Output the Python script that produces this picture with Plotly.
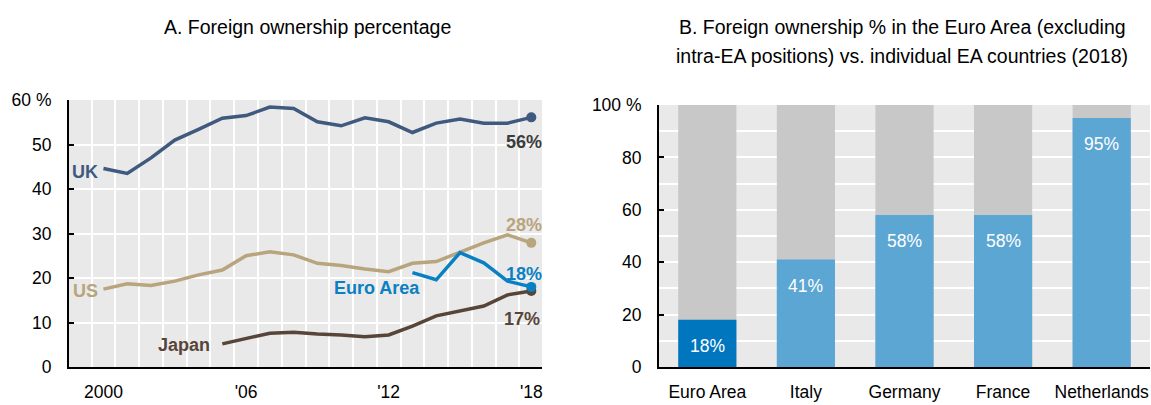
import plotly.graph_objects as go

# ---------------- Data ----------------
years = list(range(2000, 2019))
uk = [44.6, 43.5, 47.0, 51.0, 53.4, 55.9, 56.5, 58.4, 58.1, 55.1, 54.2, 56.0, 55.1, 52.7, 54.8, 55.7, 54.8, 54.8, 56.1]
us = [17.5, 18.7, 18.3, 19.3, 20.7, 21.8, 25.0, 25.9, 25.2, 23.3, 22.8, 22.0, 21.4, 23.3, 23.7, 25.9, 27.9, 29.7, 27.9]
japan_years = list(range(2005, 2019))
japan = [5.2, 6.4, 7.6, 7.8, 7.4, 7.2, 6.8, 7.2, 9.2, 11.5, 12.6, 13.7, 16.2, 17.1]
ea_years = list(range(2013, 2019))
euro_area = [21.2, 19.6, 25.7, 23.4, 19.3, 18.0]

x_tickvals = [2000, 2006, 2012, 2018]
x_ticktext = ["2000", "'06", "'12", "'18"]
yA_tickvals = [0, 10, 20, 30, 40, 50, 60]
yA_ticktext = ["0", "10", "20", "30", "40", "50", "60 %"]

countries = ["Euro Area", "Italy", "Germany", "France", "Netherlands"]
foreign_share = [18, 41, 58, 58, 95]
total_share = [100, 100, 100, 100, 100]
yB_tickvals = [0, 20, 40, 60, 80, 100]
yB_ticktext = ["0", "20", "40", "60", "80", "100 %"]

# ---------------- Styles ----------------
FONT = "Liberation Sans, Arial, sans-serif"
C_UK = "#3F5A7E"
C_US = "#B8A47D"
C_JP = "#574539"
C_EA = "#0A80C4"
C_EA_BAR = "#0076BF"
C_BAR = "#5CA6D3"
C_GREY = "#C8C8C8"
BG = "#E9E9E9"
TICK = 17.5

fig = go.Figure()

def line(x, y, color, name):
    fig.add_trace(go.Scatter(x=x, y=y, mode="lines", line=dict(color=color, width=3.5),
                             name=name, xaxis="x", yaxis="y", showlegend=False))
    fig.add_trace(go.Scatter(x=[x[-1]], y=[y[-1]], mode="markers",
                             marker=dict(color=color, size=10), xaxis="x", yaxis="y",
                             showlegend=False))

line(years, us, C_US, "US")
line(japan_years, japan, C_JP, "Japan")
line(years, uk, C_UK, "UK")
line(ea_years, euro_area, C_EA, "Euro Area")

# Panel B bars
fig.add_trace(go.Bar(x=countries, y=total_share, marker=dict(color=C_GREY, line=dict(width=0)),
                     width=0.59, xaxis="x2", yaxis="y2", showlegend=False, hoverinfo="skip"))
fig.add_trace(go.Bar(x=countries, y=foreign_share,
                     marker=dict(color=[C_EA_BAR] + [C_BAR] * (len(countries) - 1), line=dict(width=0)),
                     width=0.59, xaxis="x2", yaxis="y2", showlegend=False))

ann = []
# bar value labels
for c, v in zip(countries, foreign_share):
    ann.append(dict(x=c, y=v - 10, xref="x2", yref="y2", text=f"{v}%", showarrow=False,
                    xanchor="center", yanchor="middle",
                    font=dict(color="white", size=17.5, family=FONT)))

# Annotations panel A
def lab(x, y, text, color, xanchor="center", size=18):
    ann.append(dict(x=x, y=y, xref="x", yref="y", text=f"<b>{text}</b>", showarrow=False,
                    xanchor=xanchor, yanchor="middle", font=dict(color=color, size=size, family=FONT)))

lab(1999.85, uk[0] - 0.7, "UK", C_UK, "right")
lab(1999.85, us[0] - 0.5, "US", C_US, "right")
lab(japan_years[0] - 0.45, 4.9, "Japan", C_JP, "right")
lab(ea_years[0] + 0.4, 17.8, "Euro Area", C_EA, "right")
lab(2017.7, 50.5, f"{round(uk[-1])}%", "#3C3C3C")
lab(2017.7, 31.8, f"{round(us[-1])}%", C_US)
lab(2017.7, 21.0, f"{round(euro_area[-1])}%", C_EA)
lab(2017.6, 10.8, f"{round(japan[-1])}%", C_JP)

H = 405
W = 1151
def py(pix):
    return (H - pix) / H

# Titles
TFS = 19.5
ann.append(dict(x=307 / W, y=py(27), xref="paper", yref="paper", yanchor="middle", xanchor="center",
                text="A. Foreign ownership percentage", showarrow=False,
                font=dict(size=TFS, color="black", family=FONT)))
ann.append(dict(x=902 / W, y=py(27), xref="paper", yref="paper", yanchor="middle", xanchor="center",
                text="B. Foreign ownership % in the Euro Area (excluding",
                showarrow=False, font=dict(size=TFS, color="black", family=FONT)))
ann.append(dict(x=902 / W, y=py(56), xref="paper", yref="paper", yanchor="middle", xanchor="center",
                text="intra-EA positions) vs. individual EA countries (2018)",
                showarrow=False, font=dict(size=TFS, color="black", family=FONT)))

fig.update_layout(
    width=W, height=H,
    margin=dict(l=0, r=0, t=0, b=0),
    paper_bgcolor="white",
    plot_bgcolor=BG,
    font=dict(family=FONT, size=TICK, color="black"),
    barmode="overlay",
    annotations=ann,
    xaxis=dict(domain=[69 / W, 542 / W], range=[1998.55, 2018.45], tickvals=x_tickvals,
               ticktext=x_ticktext, showgrid=False, zeroline=False, automargin=False,
               showline=True, linecolor="black", linewidth=2, ticks="", ticklabelstandoff=8,
               minor=dict(tick0=1999.5, dtick=1, showgrid=True, gridcolor="white", gridwidth=2, ticks=""),
               anchor="y", fixedrange=True),
    yaxis=dict(domain=[py(367), py(100)], range=[0, 60], tickvals=yA_tickvals, ticktext=yA_ticktext,
               showgrid=True, gridcolor="white", gridwidth=2, zeroline=False, automargin=False,
               showline=True, linecolor="black", linewidth=2, ticks="inside", ticklen=5,
               tickcolor="black", tickwidth=2, anchor="x", ticklabelstandoff=12),
    xaxis2=dict(domain=[659 / W, 1150 / W], range=[-0.49, 4.49], showgrid=False, zeroline=False,
                showline=True, linecolor="black", linewidth=2, ticks="", anchor="y2",
                ticklabelstandoff=8, automargin=False),
    yaxis2=dict(domain=[py(367), py(105)], range=[0, 100], tickvals=yB_tickvals, ticktext=yB_ticktext,
                showgrid=False, zeroline=False, automargin=False,
                minor=dict(dtick=10, tick0=0, showgrid=True, gridcolor="white", gridwidth=2, ticks=""),
                showline=True, linecolor="black", linewidth=2, ticks="inside", ticklen=5,
                tickcolor="black", tickwidth=2, anchor="x2", ticklabelstandoff=12),
)

fig.write_html("out.html", config={"displayModeBar": False},
               post_script="document.body.style.margin='0';document.body.style.overflow='hidden';")
